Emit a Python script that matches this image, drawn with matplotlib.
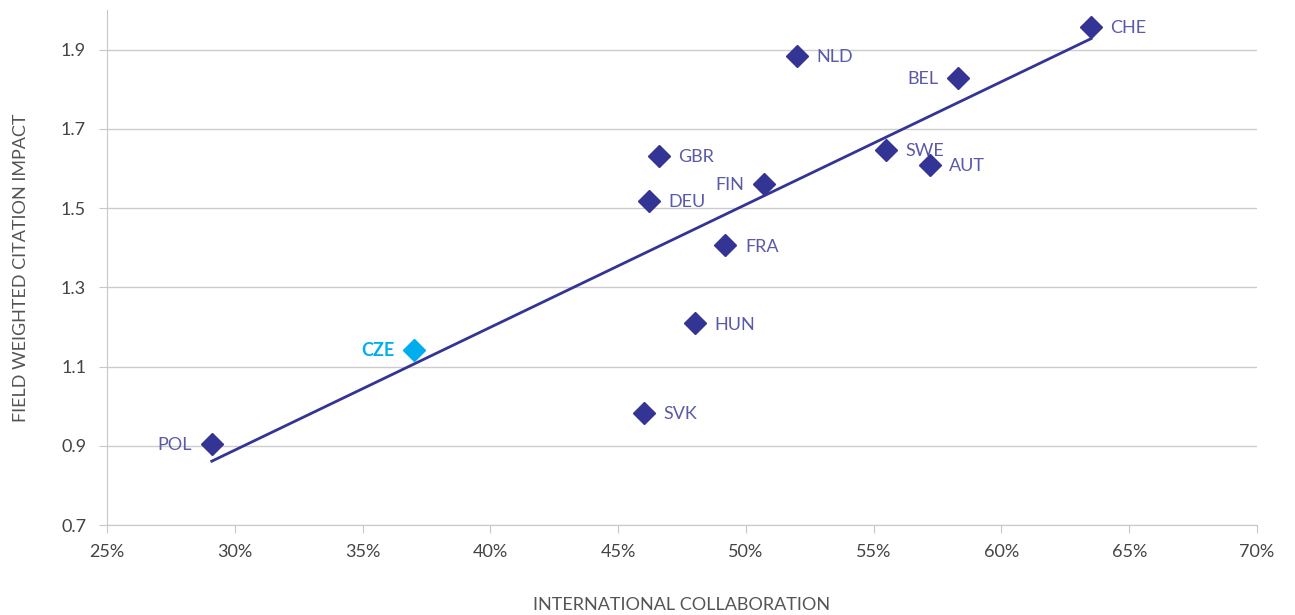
import numpy as np
import matplotlib.pyplot as plt

# values
countries = ["CHE", "NLD", "BEL", "GBR", "SWE", "AUT", "FIN", "DEU", "FRA", "HUN", "CZE", "SVK", "POL"]
collab = [63.5, 52.0, 58.3, 46.6, 55.5, 57.2, 50.7, 46.2, 49.2, 48.0, 37.0, 46.0, 29.1]
fwci = [1.958, 1.885, 1.829, 1.632, 1.647, 1.609, 1.561, 1.518, 1.406, 1.209, 1.143, 0.984, 0.905]
label_left = ["BEL", "FIN", "CZE", "POL"]

navy = "#343495"
label_col = "#5a5aa8"
cze_col = "#00aeef"

plt.rcParams['font.family'] = ['Lato', 'DejaVu Sans']

fig = plt.figure(figsize=(12.95, 6.15), dpi=100)
ax = fig.add_axes([0.0826, 0.1463, 0.8881, 0.8374])

x = np.array(collab)
y = np.array(fwci)

# linear trend line across the data range
k, b = np.polyfit(x, y, 1)
xs = np.array([x.min(), x.max()])
ax.plot(xs, k * xs + b, color=navy, lw=2, zorder=2)

for c, xi, yi in zip(countries, x, y):
    col = cze_col if c == "CZE" else navy
    ax.plot(xi, yi, marker="D", ms=11, color=col, ls="none", zorder=3)
    tcol = cze_col if c == "CZE" else label_col
    weight = "bold" if c == "CZE" else "normal"
    if c in label_left:
        ax.annotate(c, (xi, yi), xytext=(-14, -1), textcoords="offset points",
                    ha="right", va="center", color=tcol, fontsize=13, fontweight=weight)
    else:
        ax.annotate(c, (xi, yi), xytext=(14, -1), textcoords="offset points",
                    ha="left", va="center", color=tcol, fontsize=13, fontweight=weight)

ax.set_xlim(25, 70)
ax.set_ylim(0.7, 2.0)
ax.set_xticks(np.arange(25, 71, 5))
ax.set_xticklabels([f"{v}%" for v in range(25, 71, 5)])
ax.set_yticks([0.7, 0.9, 1.1, 1.3, 1.5, 1.7, 1.9])
ax.set_yticklabels(["0.7", "0.9", "1.1", "1.3", "1.5", "1.7", "1.9"])
ax.grid(axis="y", color="#cccccc", lw=1)
ax.set_axisbelow(True)
for s in ["top", "right"]:
    ax.spines[s].set_visible(False)
for s in ["left", "bottom"]:
    ax.spines[s].set_color("#c8c8c8")
ax.tick_params(colors="#c8c8c8", labelcolor="#444444", labelsize=13, length=6)
ax.tick_params(axis="x", pad=8)
ax.tick_params(axis="y", pad=9)

ax.set_xlabel("INTERNATIONAL COLLABORATION", fontsize=13, color="#555555", labelpad=26)
ax.set_ylabel("FIELD WEIGHTED CITATION IMPACT", fontsize=13, color="#555555", labelpad=23)

fig.savefig("out.png", dpi=100)
